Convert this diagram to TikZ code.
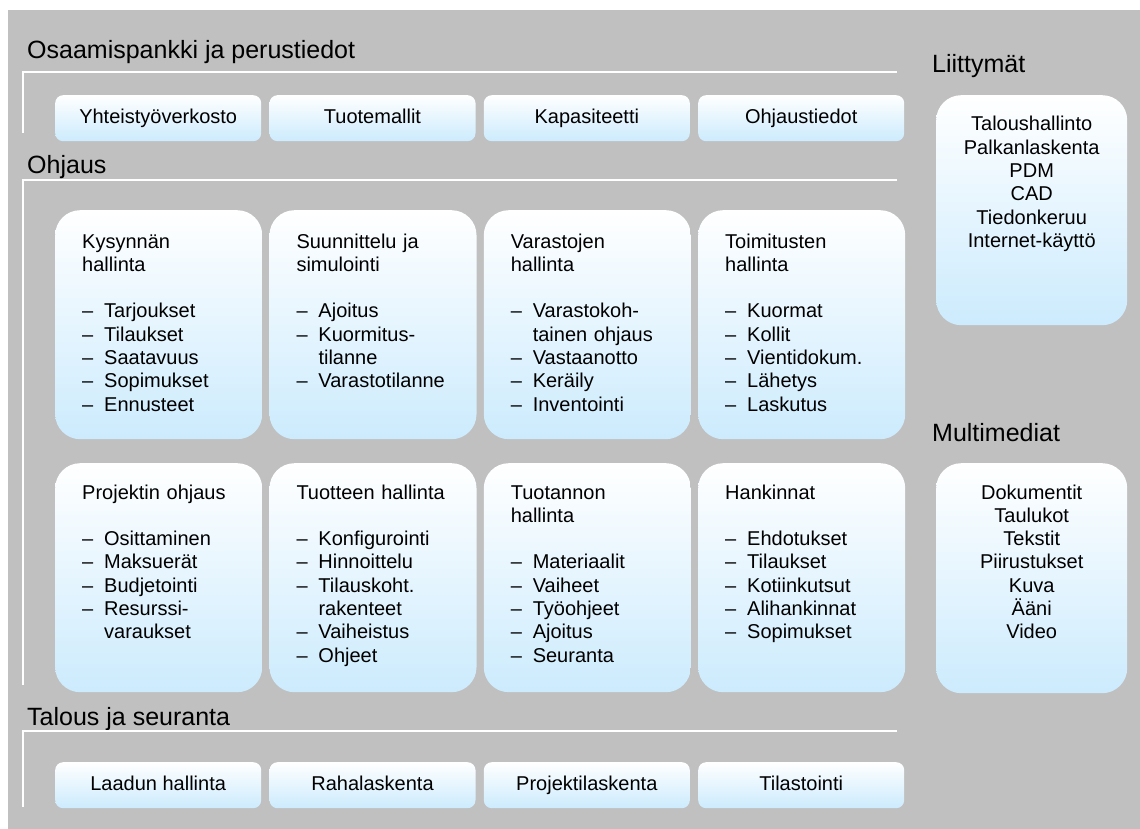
\documentclass[tikz,border=0pt]{standalone}
\usepackage{fontspec}
\setmainfont{Liberation Sans}
\definecolor{bggray}{RGB}{192,192,192}
\definecolor{lblue}{RGB}{204,235,253}
\newcommand\dashitem[1]{\makebox[22pt][l]{–}#1}
\newcommand\contitem[1]{\hspace*{22pt}#1}
\tikzset{
  bigbox/.style={rounded corners=25pt, top color=white, bottom color=lblue, draw=none,
    minimum width=207pt, minimum height=229pt, anchor=north west, inner sep=0pt},
  sidebox/.style={bigbox, minimum width=191pt, minimum height=230pt},
  smallbox/.style={rounded corners=8pt, top color=white, bottom color=lblue, draw=none,
    minimum width=206pt, minimum height=46pt, anchor=north west, inner sep=0pt,
    text height=15pt, text depth=4pt,
    font=\fontsize{20}{23.3}\selectfont},
  btext/.style={anchor=base west, text width=178pt, align=left, inner sep=0pt,
    font=\fontsize{20}{23.3}\selectfont},
  ctext/.style={anchor=base, text width=185pt, align=center, inner sep=0pt,
    font=\fontsize{20}{23.3}\selectfont},
  sectitle/.style={anchor=base west, inner sep=0pt, font=\fontsize{25}{30}\selectfont},
  sectline/.style={draw=white, line width=2pt}
}
\begin{document}
\begin{tikzpicture}[x=1pt,y=-1pt]
\useasboundingbox (0,0) rectangle (1140,829);
\fill[bggray] (8,10) rectangle (1140,829);

% section titles
\node[sectitle] (t1) at (27,59) {Osaamispankki ja perustiedot};
\node[sectitle] (t2) at (27,174) {Ohjaus};
\node[sectitle] (t3) at (27,725) {Talous ja seuranta};
\node[sectitle] (t4) at (932,73) {Liittymät};
\node[sectitle] (t5) at (932,441) {Multimediat};

% section lines
\draw[sectline] (23,133) -- (23,72) -- (897,72);
\draw[sectline] (23,685) -- (23,180) -- (897,180);
\draw[sectline] (23,807) -- (23,731) -- (897,731);

% top small boxes
\node[smallbox] (s1) at (55,95) {Yhteistyöverkosto};
\node[smallbox] (s2) at (269.3,95) {Tuotemallit};
\node[smallbox] (s3) at (483.6,95) {Kapasiteetti};
\node[smallbox] (s4) at (698,95) {Ohjaustiedot};

% bottom small boxes
\node[smallbox] (b1) at (55,762) {Laadun hallinta};
\node[smallbox] (b2) at (269.3,762) {Rahalaskenta};
\node[smallbox] (b3) at (483.6,762) {Projektilaskenta};
\node[smallbox] (b4) at (698,762) {Tilastointi};

% row 1 big boxes
\node[bigbox] (k1) at (55,210) {};
\node[bigbox] (k2) at (269.3,210) {};
\node[bigbox] (k3) at (483.6,210) {};
\node[bigbox] (k4) at (698,210) {};
% row 2 big boxes
\node[bigbox] (p1) at (55,463) {};
\node[bigbox] (p2) at (269.3,463) {};
\node[bigbox] (p3) at (483.6,463) {};
\node[bigbox] (p4) at (698,463) {};
% side boxes
\node[sidebox] (lb) at (936,95) {};
\node[sidebox] (mb) at (936,463) {};

% texts row 1
\node[btext] (k1t) at ([shift={(27,38)}]k1.north west) {Kysynnän\\hallinta\\[23.3pt]
  \dashitem{Tarjoukset}\\\dashitem{Tilaukset}\\\dashitem{Saatavuus}\\\dashitem{Sopimukset}\\\dashitem{Ennusteet}};
\node[btext] (k2t) at ([shift={(27,38)}]k2.north west) {Suunnittelu ja\\simulointi\\[23.3pt]
  \dashitem{Ajoitus}\\\dashitem{Kuormitus-}\\\contitem{tilanne}\\\dashitem{Varastotilanne}};
\node[btext] (k3t) at ([shift={(27,38)}]k3.north west) {Varastojen\\hallinta\\[23.3pt]
  \dashitem{Varastokoh-}\\\contitem{tainen ohjaus}\\\dashitem{Vastaanotto}\\\dashitem{Keräily}\\\dashitem{Inventointi}};
\node[btext] (k4t) at ([shift={(27,38)}]k4.north west) {Toimitusten\\hallinta\\[23.3pt]
  \dashitem{Kuormat}\\\dashitem{Kollit}\\\dashitem{Vientidokum.}\\\dashitem{Lähetys}\\\dashitem{Laskutus}};

% texts row 2
\node[btext] (p1t) at ([shift={(27,36)}]p1.north west) {Projektin ohjaus\\[23.3pt]
  \dashitem{Osittaminen}\\\dashitem{Maksuerät}\\\dashitem{Budjetointi}\\\dashitem{Resurssi-}\\\contitem{varaukset}};
\node[btext] (p2t) at ([shift={(27,36)}]p2.north west) {Tuotteen hallinta\\[23.3pt]
  \dashitem{Konfigurointi}\\\dashitem{Hinnoittelu}\\\dashitem{Tilauskoht.}\\\contitem{rakenteet}\\\dashitem{Vaiheistus}\\\dashitem{Ohjeet}};
\node[btext] (p3t) at ([shift={(27,36)}]p3.north west) {Tuotannon\\hallinta\\[23.3pt]
  \dashitem{Materiaalit}\\\dashitem{Vaiheet}\\\dashitem{Työohjeet}\\\dashitem{Ajoitus}\\\dashitem{Seuranta}};
\node[btext] (p4t) at ([shift={(27,36)}]p4.north west) {Hankinnat\\[23.3pt]
  \dashitem{Ehdotukset}\\\dashitem{Tilaukset}\\\dashitem{Kotiinkutsut}\\\dashitem{Alihankinnat}\\\dashitem{Sopimukset}};

% side texts
\node[ctext] (lt) at ([shift={(0,36)}]lb.north) {Taloushallinto\\Palkanlaskenta\\PDM\\CAD\\Tiedonkeruu\\Internet-käyttö};
\node[ctext] (mt) at ([shift={(0,36)}]mb.north) {Dokumentit\\Taulukot\\Tekstit\\Piirustukset\\Kuva\\Ääni\\Video};
\end{tikzpicture}
\end{document}
